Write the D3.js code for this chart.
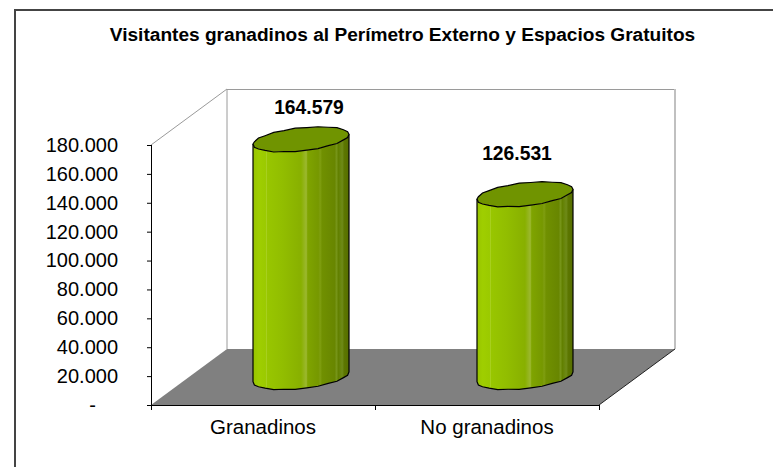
<!DOCTYPE html>
<html><head><meta charset="utf-8">
<script src="https://cdn.jsdelivr.net/npm/d3@7"></script>
<style>html,body{margin:0;padding:0;background:#fff}svg{display:block}text{font-family:"Liberation Sans",Arial,sans-serif;fill:#000}</style>
</head><body><svg id="c" width="773" height="467"></svg>
<script>
const categories=["Granadinos","No granadinos"];
const values=[164579,126531];
const valueLabels=["164.579","126.531"];
const labelShift=[8,-8];
const labelLift=[25,34];
const tickValues=[0,20000,40000,60000,80000,100000,120000,140000,160000,180000];
const tickLabels=["-","20.000","40.000","60.000","80.000","100.000","120.000","140.000","160.000","180.000"];
const titleText="Visitantes granadinos al Perímetro Externo y Espacios Gratuitos";

const svg=d3.select("#c");
const x0=151,x1=599,yB=405,yT=145,dx=76,dy=56;
const y=d3.scaleLinear().domain([0,180000]).range([yB,yT]);
const x=d3.scaleBand().domain(categories).range([x0,x1]);

// frame
svg.append("path").attr("d","M15,467V10H773").attr("fill","none").attr("stroke","#444").attr("stroke-width",2);

svg.append("text").attr("x",402.5).attr("y",41).attr("text-anchor","middle")
  .style("font-size","19.1px").style("font-weight","700").text(titleText);

// walls
const wall=svg.append("g").attr("fill","none").attr("stroke","#9a9a9a");
wall.append("path").attr("d",`M${x0},${yT}L${x0+dx},${yT-dy}V${yB-dy}`);
wall.append("path").attr("d",`M${x0+dx},${yT-dy+.5}H${x1+dx}`);
wall.append("path").attr("d",`M${x1+dx},${yT-dy}V${yB-dy}`).attr("stroke","#c0c0c0").attr("stroke-width",2);
svg.append("path").attr("d",`M${x0},${yB}L${x0+dx},${yB-dy}H${x1+dx}L${x1},${yB}Z`).attr("fill","#808080");
svg.append("path").attr("d",`M${x1},${yB}L${x1+dx},${yB-dy}`).attr("stroke","#222").attr("fill","none");

// cylinder
const defs=svg.append("defs");
const stops=[[0,"#98c400"],[.06,"#9fce00"],[.13,"#9bca00"],[.14,"#a8d020"],[.15,"#98c600"],[.3,"#92be00"],[.5,"#88b000"],[.555,"#9cb830"],[.57,"#7fa400"],[.68,"#769800"],[.7,"#7f9e10"],[.72,"#709000"],[.85,"#688600"],[.87,"#769418"],[.89,"#628000"],[.93,"#6e8a18"],[.95,"#5c7600"],[1,"#566e00"]];
const g=defs.append("linearGradient").attr("id","cyl");
g.selectAll("stop").data(stops).join("stop").attr("offset",d=>d[0]).attr("stop-color",d=>d[1]);

const a=48,b=11.5,k=5,n=26;
const jag=[0,.4,-.3,.4,-.3,.3,0,.4,-.3,.4,-.2,0,.4,-.3,.4,-.3,.3,-.2,.4,-.3,.3,0,.3,-.3,.3,0];
function rim(cx,cy,i){const t=2*Math.PI*i/n;
  return [cx+a*Math.cos(t),cy+b*Math.sin(t)-k*Math.cos(t)+jag[i%n]];}
const line=d3.line().curve(d3.curveLinear);

const bars=svg.append("g").selectAll("g").data(values).join("g");
bars.each(function(v,idx){
  const sel=d3.select(this);
  const cx=x(categories[idx])+x.bandwidth()/2+38;
  const yBase=yB-dy/2, yTop=y(v)-dy/2;
  const front=[],frontTop=[];
  for(let i=0;i<=n/2;i++){front.push(rim(cx,yBase,i));frontTop.push(rim(cx,yTop,i));}
  const body=front.concat(frontTop.slice().reverse());
  sel.append("path").attr("d",line(body)+"Z").attr("fill","url(#cyl)").attr("stroke","none");
  sel.append("path").attr("d",line([rim(cx,yTop,n/2)].concat(front.slice().reverse()).concat([rim(cx,yTop,0)])))
    .attr("fill","none").attr("stroke","#000").attr("stroke-width",1.2);
  const top=d3.range(n).map(i=>rim(cx,yTop,i));
  sel.append("path").attr("d",line(top)+"Z").attr("fill","#709400").attr("stroke","#000").attr("stroke-width",1.2);
  sel.append("text").attr("x",cx+labelShift[idx]).attr("y",yTop-labelLift[idx]).attr("text-anchor","middle")
    .style("font-size","19.3px").style("font-weight","700").text(valueLabels[idx]);
});

// axes
const yAxis=d3.axisLeft(y).tickValues(tickValues).tickFormat((d,i)=>tickLabels[i]).tickSize(4).tickPadding(29);
const gy=svg.append("g").attr("transform",`translate(${x0},0)`).call(yAxis);
gy.selectAll("path,line").attr("stroke","#000");
gy.selectAll("text").style("font-size","20px").attr("dx",(d,i)=>i===0?"-22":"0");
gy.select(".domain").attr("d",`M0.5,${yT}V${yB}`);
const xAxis=d3.axisBottom(x).tickValues(categories).tickSize(0).tickPadding(14);
const gx=svg.append("g").attr("transform",`translate(0,${yB})`).call(xAxis);
gx.select(".domain").attr("stroke","#000").attr("d",`M${x0},0.5H${x1}`);
gx.selectAll("text").style("font-size","20.5px");
svg.append("g").selectAll("line").data([x0,(x0+x1)/2,x1]).join("line")
  .attr("x1",d=>d+.5).attr("x2",d=>d+.5).attr("y1",yB).attr("y2",yB+5).attr("stroke","#000");
</script></body></html>
